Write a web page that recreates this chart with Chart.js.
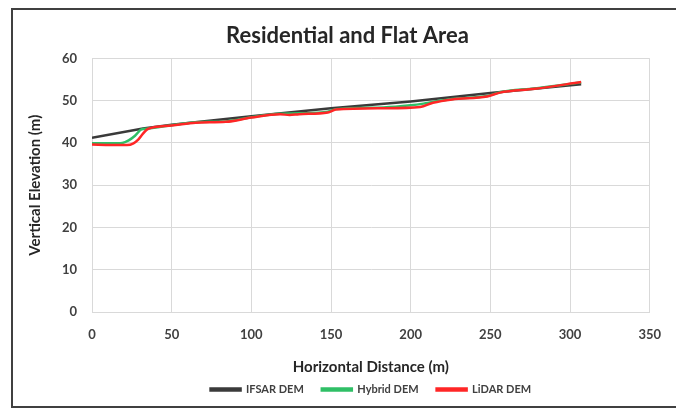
<!DOCTYPE html>
<html>
<head>
<meta charset="utf-8">
<script src="https://cdn.jsdelivr.net/npm/chart.js@4/dist/chart.umd.min.js"></script>
<style>
  html, body { margin: 0; padding: 0; background: #fff; overflow: hidden; }
  #wrap { position: relative; width: 676px; height: 408px; }
  #frame { position: absolute; left: 11px; top: 8px; width: 700px; height: 396px;
           border: 2px solid #404040; border-right: none; box-sizing: content-box; }
  canvas { position: absolute; left: 0; top: 0; }
</style>
</head>
<body>
<div id="wrap">
  <div id="frame"></div>
  <canvas id="c" width="676" height="408"></canvas>
</div>
<script>
// Elevation profiles along the transect (distance in m, elevation in m)
const ifsarDist = [0, 32, 50, 100, 150, 200, 250, 307];
const ifsarElev = [41.2, 43.4, 44.3, 46.3, 48.2, 49.8, 51.8, 53.9];

const hybridDist = [0, 12, 19, 23, 27, 31, 35, 50, 65, 84, 100, 118, 130, 148, 153, 183, 200, 208, 214, 226, 248, 256, 278, 307];
const hybridElev = [39.9, 39.9, 40.0, 40.6, 41.7, 43.2, 43.4, 44.2, 44.9, 45.1, 46.1, 46.9, 47.0, 47.4, 48.0, 48.4, 48.9, 49.3, 49.7, 50.4, 51.1, 52.0, 52.9, 54.3];

const lidarDist = [0, 12, 22, 26, 29, 32, 35, 50, 65, 84, 100, 118, 124, 130, 148, 153, 183, 206, 214, 226, 248, 256, 278, 307];
const lidarElev = [39.6, 39.5, 39.5, 39.9, 40.8, 42.2, 43.3, 44.1, 44.8, 45.0, 46.0, 46.8, 46.6, 46.8, 47.2, 47.9, 48.2, 48.5, 49.5, 50.3, 51.0, 51.9, 52.8, 54.4];

const seriesNames = ['IFSAR DEM', 'Hybrid DEM', 'LiDAR DEM'];
const xTicks = [0, 50, 100, 150, 200, 250, 300, 350];
const yTicks = [0, 10, 20, 30, 40, 50, 60];

const toPoints = (xs, ys) => xs.map((x, i) => ({ x: x, y: ys[i] }));

const fontFamily = "Lato, 'Open Sans', sans-serif";

new Chart(document.getElementById('c'), {
  type: 'line',
  data: {
    datasets: [
      { label: seriesNames[0], data: toPoints(ifsarDist, ifsarElev),
        borderColor: '#3a3a3a', backgroundColor: '#3a3a3a', borderWidth: 2.5,
        pointRadius: 0, tension: 0, order: 3 },
      { label: seriesNames[1], data: toPoints(hybridDist, hybridElev),
        borderColor: '#2fbf66', backgroundColor: '#2fbf66', borderWidth: 2.5,
        pointRadius: 0, cubicInterpolationMode: 'monotone', order: 2 },
      { label: seriesNames[2], data: toPoints(lidarDist, lidarElev),
        borderColor: '#ff2626', backgroundColor: '#ff2626', borderWidth: 2.5,
        pointRadius: 0, cubicInterpolationMode: 'monotone', order: 1 }
    ]
  },
  options: {
    responsive: false,
    animation: false,
    events: [],
    layout: { padding: { left: 40, right: 21, top: 0, bottom: 3 } },
    plugins: {
      title: {
        display: true,
        text: 'Residential and Flat Area',
        color: '#262626',
        font: { family: fontFamily, size: 22, weight: 'bold' },
        padding: { top: 23, bottom: 9 }
      },
      legend: {
        position: 'bottom',
        fullSize: false,
        labels: {
          color: '#404040',
          font: { family: fontFamily, size: 11, weight: 'bold' },
          boxWidth: 30,
          boxHeight: 2,
          padding: 18,
          sort: (a, b) => a.datasetIndex - b.datasetIndex
        }
      },
      tooltip: { enabled: false }
    },
    scales: {
      x: {
        type: 'linear',
        min: xTicks[0],
        max: xTicks[xTicks.length - 1],
        afterBuildTicks: (s) => { s.ticks = xTicks.map(v => ({ value: v })); },
        afterFit: (s) => { s.height = 54; },
        grid: { color: '#d9d9d9', lineWidth: 1, drawTicks: false },
        border: { color: '#d9d9d9' },
        ticks: { color: '#404040', padding: 15,
                 font: { family: fontFamily, size: 13, weight: 'bold' } },
        title: { display: true, text: 'Horizontal Distance (m)', color: '#262626',
                 font: { family: fontFamily, size: 15, weight: 'bold' },
                 padding: { top: 0, bottom: -10 } }
      },
      y: {
        type: 'linear',
        min: yTicks[0],
        max: yTicks[yTicks.length - 1],
        afterBuildTicks: (s) => { s.ticks = yTicks.map(v => ({ value: v })); },
        afterFit: (s) => { s.width = 52; },
        grid: { color: '#d9d9d9', lineWidth: 1, drawTicks: false },
        border: { color: '#d9d9d9' },
        ticks: { color: '#404040', padding: 15,
                 font: { family: fontFamily, size: 13, weight: 'bold' } },
        title: { display: true, text: 'Vertical Elevation (m)', color: '#262626',
                 font: { family: fontFamily, size: 15, weight: 'bold' },
                 padding: { top: -14, bottom: 0 } }
      }
    }
  }
});
</script>
</body>
</html>
